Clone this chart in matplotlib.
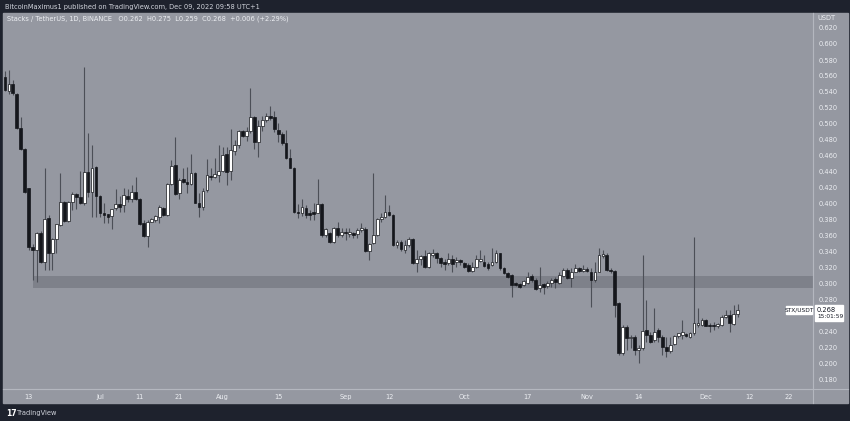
import matplotlib
matplotlib.use("Agg")
import matplotlib.pyplot as plt
import matplotlib.dates as mdates
from matplotlib.patches import Rectangle
from matplotlib.lines import Line2D
import numpy as np
import pandas as pd

# STX/USDT daily candles, Jun 7 - Dec 9 2022
dates = pd.date_range("2022-06-07", "2022-12-09", freq="D")

opens = [
    # Jun 7-30
    .559, .5417, .5496, .538, .4946, .469, .4196, .3467, .3425, .3642, .3279, .3821,
    .3392, .3558, .3738, .4029, .3792, .4029, .4125, .4092, .4008, .4404, .4154, .446,
    # Jul
    .410, .3892, .3871, .385, .3946, .400, .3988, .4104, .4063, .4154, .4063, .3758,
    .360, .3779, .380, .3842, .3946, .3863, .425, .4488, .4133, .4308, .4279, .425,
    .4383, .4017, .3958, .4175, .435, .4342, .4367,
    # Aug
    .4417, .4625, .4417, .4663, .4738, .4913, .4854, .4913, .5092, .4779, .4975, .505,
    .5104, .5092, .4925, .4871, .4767, .4571, .4454, .3904, .3888, .3946, .389, .3904,
    .3888, .400, .3613, .3633, .3529, .3696, .3613,
    # Sep
    .3654, .3625, .3633, .3625, .3675, .3692, .3413, .3508, .3613, .3808, .3842, .3904,
    .3863, .3488, .352, .3425, .3488, .3563, .3267, .3308, .335, .3208, .3363, .3392,
    .3321, .327, .3267, .3313, .3271, .330,
    # Oct
    .3258, .3238, .3163, .3208, .3288, .3271, .3246, .3238, .3271, .3383, .3196, .3133,
    .3113, .3008, .2996, .2988, .3008, .310, .305, .2946, .2996, .2979, .3008, .3058,
    .3008, .3104, .3175, .3079, .3154, .3196, .3163,
    # Nov
    .3188, .3154, .305, .3154, .335, .3363, .318, .3167, .2758, .2133, .2467, .2321,
    .2342, .2175, .2196, .2425, .2363, .230, .2425, .2342, .2217, .2167, .2254, .2354,
    .2363, .2375, .2333, .2383, .2488, .2488,
    # Dec 1-9
    .255, .2488, .248, .2471, .2488, .2592, .2613, .2496, .262,
]

highs = [
    .566, .5675, .555, .539, .509, .470, .420, .350, .365, .366, .4446, .3863,
    .357, .375, .4392, .404, .404, .415, .4133, .4417, .5708, .4892, .4738, .447,
    .411, .4017, .388, .394, .4183, .410, .4196, .4183, .4238, .4342, .407, .380,
    .380, .382, .386, .3988, .396, .426, .455, .4833, .432, .4446, .4467, .4625,
    .440, .4133, .4196, .4558, .4446, .4571, .474,
    .4708, .4717, .4938, .480, .4925, .4925, .4967, .5446, .510, .505, .510, .5133,
    .5225, .5167, .5008, .4904, .4925, .4683, .446, .400, .4058, .3988, .392, .401,
    .4308, .401, .370, .3654, .3717, .3779, .3696,
    .3696, .3696, .3654, .3696, .3758, .3717, .351, .4392, .382, .389, .4113, .3988,
    .387, .3546, .355, .355, .3592, .3575, .3425, .3363, .3425, .3404, .3433, .3404,
    .3342, .3308, .3383, .3363, .3342, .3313,
    .3279, .3258, .3279, .3363, .3425, .3363, .3279, .3454, .3425, .339, .3217, .315,
    .312, .3029, .3008, .305, .3154, .3121, .3071, .3217, .3008, .3038, .3079, .3092,
    .3154, .3204, .3196, .3196, .3246, .3217, .3238,
    .3217, .3196, .328, .3446, .3425, .3383, .3196, .318, .277, .2488, .2488, .2363,
    .2363, .2238, .3363, .280, .2404, .2696, .2446, .2363, .2333, .2342, .2363, .2375,
    .255, .2383, .2404, .359, .2696, .2571,
    .2558, .2508, .2529, .2517, .2613, .2675, .2675, .2738, .275,
]

lows = [
    .541, .538, .5363, .4933, .4675, .4133, .3425, .305, .3029, .3258, .3175, .3175,
    .3175, .3383, .372, .3779, .378, .3925, .3933, .400, .399, .409, .3842, .3842,
    .3842, .3767, .3758, .3688, .3925, .390, .3904, .403, .403, .405, .3738, .359,
    .3467, .377, .378, .3758, .385, .385, .424, .4113, .4058, .426, .4133, .424,
    .4008, .3842, .3925, .415, .430, .4321, .4279,
    .4404, .4238, .430, .4613, .4696, .484, .4792, .4883, .4683, .4583, .4913, .5029,
    .505, .4904, .4779, .4738, .4558, .4446, .3892, .383, .385, .3821, .380, .380,
    .3883, .359, .3592, .3517, .3517, .3592, .3592,
    .3546, .3592, .3571, .3571, .3654, .3404, .330, .350, .3605, .378, .382, .385,
    .3475, .3446, .3417, .3383, .3467, .325, .3154, .3238, .3196, .3196, .3342, .3258,
    .3217, .3175, .3238, .3154, .3217, .3238,
    .3196, .3154, .3154, .3196, .3271, .3217, .3175, .3225, .3265, .3175, .3121, .3079,
    .2842, .2979, .2954, .297, .2996, .3029, .2925, .2904, .2871, .2954, .2967, .2954,
    .300, .3092, .3063, .2967, .3146, .3154, .3154,
    .3146, .2717, .3029, .315, .332, .3167, .3133, .2592, .2113, .2113, .2175, .2196,
    .2113, .2008, .218, .2279, .2258, .2279, .2279, .2113, .2092, .2133, .2238, .2321,
    .2313, .2342, .2321, .2363, .2467, .2479,
    .2471, .2404, .2425, .2446, .2479, .2571, .2404, .2488, .259,
]

closes = [
    .5425, .5496, .5383, .4946, .4683, .4154, .3467, .3425, .3642, .3279, .3808, .3392,
    .3558, .3746, .4029, .3792, .4029, .4125, .4083, .4008, .4404, .4154, .4446, .410,
    .3883, .3863, .3842, .3933, .400, .3967, .4113, .4063, .4146, .4063, .375, .360,
    .377, .3808, .385, .3958, .3863, .425, .4475, .4125, .430, .4279, .4246, .4383,
    .4017, .3958, .4167, .4363, .4333, .4375, .4417,
    .4613, .4404, .4675, .4738, .4913, .4854, .4913, .5092, .4779, .4975, .505, .5104,
    .508, .4933, .4871, .4767, .4571, .4454, .3904, .3888, .3967, .3863, .3863, .387,
    .400, .3613, .3683, .3529, .3696, .3613, .3654,
    .3633, .3654, .3613, .3675, .3696, .3413, .350, .3613, .3808, .3842, .3904, .3863,
    .3488, .353, .3433, .3488, .3558, .3258, .3308, .335, .3208, .3383, .3392, .3321,
    .3267, .325, .3308, .325, .330, .3279,
    .3217, .3163, .3217, .3313, .3313, .3229, .3204, .3279, .3383, .3196, .3133, .3092,
    .2988, .2988, .2967, .3038, .3092, .305, .2938, .2988, .2967, .3008, .305, .3029,
    .3113, .3175, .3071, .3146, .3196, .3167, .3188,
    .3163, .305, .3154, .3363, .3375, .3175, .3167, .2738, .2133, .2467, .2321, .2342,
    .2175, .220, .2417, .2363, .2279, .2404, .2342, .2217, .2167, .2238, .235, .2383,
    .2396, .235, .2383, .2508, .2508, .255,
    .2479, .2471, .2471, .2496, .2592, .2613, .2508, .2621, .268,
]

zone_low, zone_high = 0.2955, 0.3105
zone_start = "2022-06-14"

# 0.260 sits under the last-price label, so it is not shown
price_ticks = [0.18, 0.20, 0.22, 0.24, 0.28, 0.30, 0.32, 0.34, 0.36, 0.38, 0.40,
               0.42, 0.44, 0.46, 0.48, 0.50, 0.52, 0.54, 0.56, 0.58, 0.60, 0.62]
time_ticks = ["2022-06-13", "2022-07-01", "2022-07-11", "2022-07-21", "2022-08-01",
              "2022-08-15", "2022-09-01", "2022-09-12", "2022-10-01", "2022-10-17",
              "2022-11-01", "2022-11-14", "2022-12-01", "2022-12-12", "2022-12-22"]
time_labels = ["13", "Jul", "11", "21", "Aug", "15", "Sep", "12", "Oct", "17",
               "Nov", "14", "Dec", "12", "22"]

W, H = 850, 421
dark = "#1e222d"
bg = "#9598a1"
zone_col = "#7e818a"
line_col = "#b4b7bf"
txt = "#eceef2"


def box(x0, y0, x1, y1):
    return [x0 / W, 1 - y1 / H, (x1 - x0) / W, (y1 - y0) / H]


fig = plt.figure(figsize=(W / 100, H / 100), dpi=100, facecolor=dark)
fig.patches.append(Rectangle((3 / W, 1 - 403 / H), 845 / W, 390 / H,
                             transform=fig.transFigure, color=bg, zorder=-5))

ax = fig.add_axes(box(3, 13, 813, 389))
ax.set_facecolor(bg)

x = mdates.date2num(dates)
o = np.array(opens)
h = np.array(highs)
l = np.array(lows)
c = np.array(closes)
up = c >= o

x_left = mdates.date2num(pd.Timestamp("2022-07-01")) - 24.49
x_right = mdates.date2num(pd.Timestamp("2022-07-01")) + 180.05

# support zone
zs = mdates.date2num(pd.Timestamp(zone_start)) + 0.2
ax.fill_between([zs, x_right], zone_low, zone_high, color=zone_col, lw=0, zorder=1)

# candles
ax.vlines(x, l, h, color="#4c4f57", lw=0.8, zorder=2)
bottoms = np.minimum(o, c)
heights = np.maximum(np.abs(c - o), 0.0012)
ax.bar(x, heights, bottom=bottoms, width=0.7,
       color=np.where(up, "#ffffff", "#15171c"),
       edgecolor="#15171c", linewidth=0.5, zorder=3)

ax.set_xlim(x_left, x_right)
ax.set_ylim(0.16875, 0.63875)

for s in ["top", "left"]:
    ax.spines[s].set_visible(False)
for s in ["right", "bottom"]:
    ax.spines[s].set_color(line_col)
    ax.spines[s].set_linewidth(0.8)

ax.yaxis.tick_right()
ax.set_yticks(price_ticks)
ax.set_yticklabels([f"{p:.3f}" for p in price_ticks])
ax.tick_params(axis="y", length=0, pad=4, labelsize=4.8, labelcolor=txt)

ax.set_xticks([mdates.date2num(pd.Timestamp(t)) for t in time_ticks])
ax.set_xticklabels(time_labels)
ax.tick_params(axis="x", length=0, pad=3.5, labelsize=4.8, labelcolor=txt)

# separators through the axis areas
fig.add_artist(Line2D([813 / W, 813 / W], [1 - 13 / H, 1 - 403 / H], color=line_col, lw=0.8))
fig.add_artist(Line2D([3 / W, 848 / W], [1 - 389 / H, 1 - 389 / H], color=line_col, lw=0.8))

# header texts
fig.text(5 / W, 1 - 6.5 / H,
         "BitcoinMaximus1 published on TradingView.com, Dec 09, 2022 09:58 UTC+1",
         fontsize=4.8, color="#d1d4dc", va="center")
fig.text(7 / W, 1 - 18.5 / H,
         "Stacks / TetherUS, 1D, BINANCE   O0.262  H0.275  L0.259  C0.268  +0.006 (+2.29%)",
         fontsize=4.8, color=txt, va="center")
fig.text(817 / W, 1 - 18 / H, "USDT", fontsize=4.8, color=txt, va="center")

# last price labels
fig.patches.append(Rectangle((786 / W, 1 - 314 / H), 26 / W, 8 / H,
                             transform=fig.transFigure, color="#ffffff", zorder=5))
fig.text(799 / W, 1 - 310 / H, "STX/USDT", fontsize=4.2, color="#131722",
         ha="center", va="center", zorder=6)
fig.patches.append(Rectangle((815 / W, 1 - 321 / H), 28 / W, 16 / H,
                             transform=fig.transFigure, color="#ffffff", zorder=5))
fig.text(817 / W, 1 - 309.6 / H, "0.268", fontsize=4.8, color="#131722",
         va="center", zorder=6)
fig.text(817 / W, 1 - 316.8 / H, "15:01:59", fontsize=4.2, color="#131722",
         va="center", zorder=6)

# footer logo
fig.text(6 / W, 1 - 413 / H, "17", fontsize=5.5, color="#ffffff",
         fontweight="bold", va="center")
fig.text(17 / W, 1 - 413 / H, "TradingView", fontsize=4.8, color="#d1d4dc",
         va="center")

fig.savefig("out.png", dpi=100, facecolor=dark)
